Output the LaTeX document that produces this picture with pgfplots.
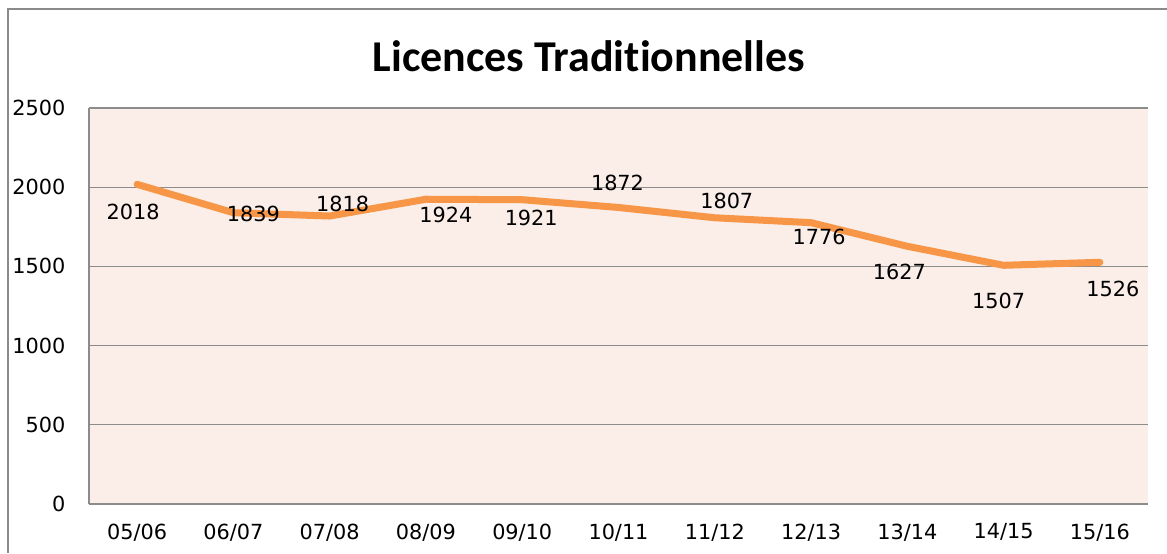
\documentclass[border=0pt]{standalone}
\usepackage{pgfplots}
\pgfplotsset{compat=1.18}
\usepackage{pgfplotstable}
\usepackage{fontspec}
\setmainfont{DejaVu Sans}
\newfontfamily\titlefont[Ligatures={NoCommon,NoDiscretionary,NoContextual}]{Carlito}
\definecolor{lineorange}{HTML}{F79646}
\definecolor{plotbg}{HTML}{FBEDE8}
\definecolor{gridgray}{HTML}{8C8C8C}
\definecolor{framegray}{HTML}{8A8A8A}

\pgfplotstableread{
x y dx dy
0 2018 -2 -14
1 1839 10 -0.5
2 1818 6.5 6
3 1924 10 -8
4 1921 4.5 -9
5 1872 -0.5 12.5
6 1807 6 8.5
7 1776 4 -7
8 1627 -4 -13
9 1507 -2.5 -18
10 1526 6.5 -13.5
}\datatable

\begin{document}
\begin{tikzpicture}
\useasboundingbox (0pt,0pt) rectangle (583.5pt,276.5pt);
\fill[white] (0pt,0pt) rectangle (583.5pt,276.5pt);
\draw[framegray, line width=1pt] (4pt,0pt) -- (4pt,272pt) -- (583.5pt,272pt);
\node[anchor=base, font=\titlefont\bfseries\fontsize{22}{26}\selectfont] at (294.5pt,240.5pt) {Licences Traditionnelles};
\begin{axis}[
  at={(44.5pt,24.5pt)}, anchor=south west,
  scale only axis, width=529.5pt, height=198pt,
  xmin=-0.5, xmax=10.5, ymin=0, ymax=2500,
  xtick={0,...,10},
  xticklabels={05/06,06/07,07/08,08/09,09/10,10/11,11/12,12/13,13/14,14/15,15/16},
  ytick={0,500,...,2500},
  /pgf/number format/1000 sep={},
  /pgf/number format/assume math mode=true,
  axis background/.style={fill=plotbg},
  ymajorgrids, grid style={gridgray, line width=0.6pt},
  axis x line=bottom, axis y line=left,
  axis line style={gridgray, line width=0.8pt, -},
  major tick length=0pt,
  tick label style={font=\fontsize{10.4}{12}\selectfont, text=black},
  yticklabel style={xshift=-8.3pt},
  xticklabel style={yshift=-6.3pt},
  clip=false,
]
\addplot[lineorange, line width=3.5pt, line join=round, line cap=round,
  nodes near coords,
  point meta=explicit,
  visualization depends on={\thisrow{dx} \as \dx},
  visualization depends on={\thisrow{dy} \as \dy},
  every node near coord/.append style={anchor=center, xshift=\dx pt, yshift=\dy pt, font=\fontsize{10.4}{12}\selectfont, text=black},
] table[x=x, y=y, meta=y] {\datatable};
\end{axis}
\end{tikzpicture}
\end{document}
